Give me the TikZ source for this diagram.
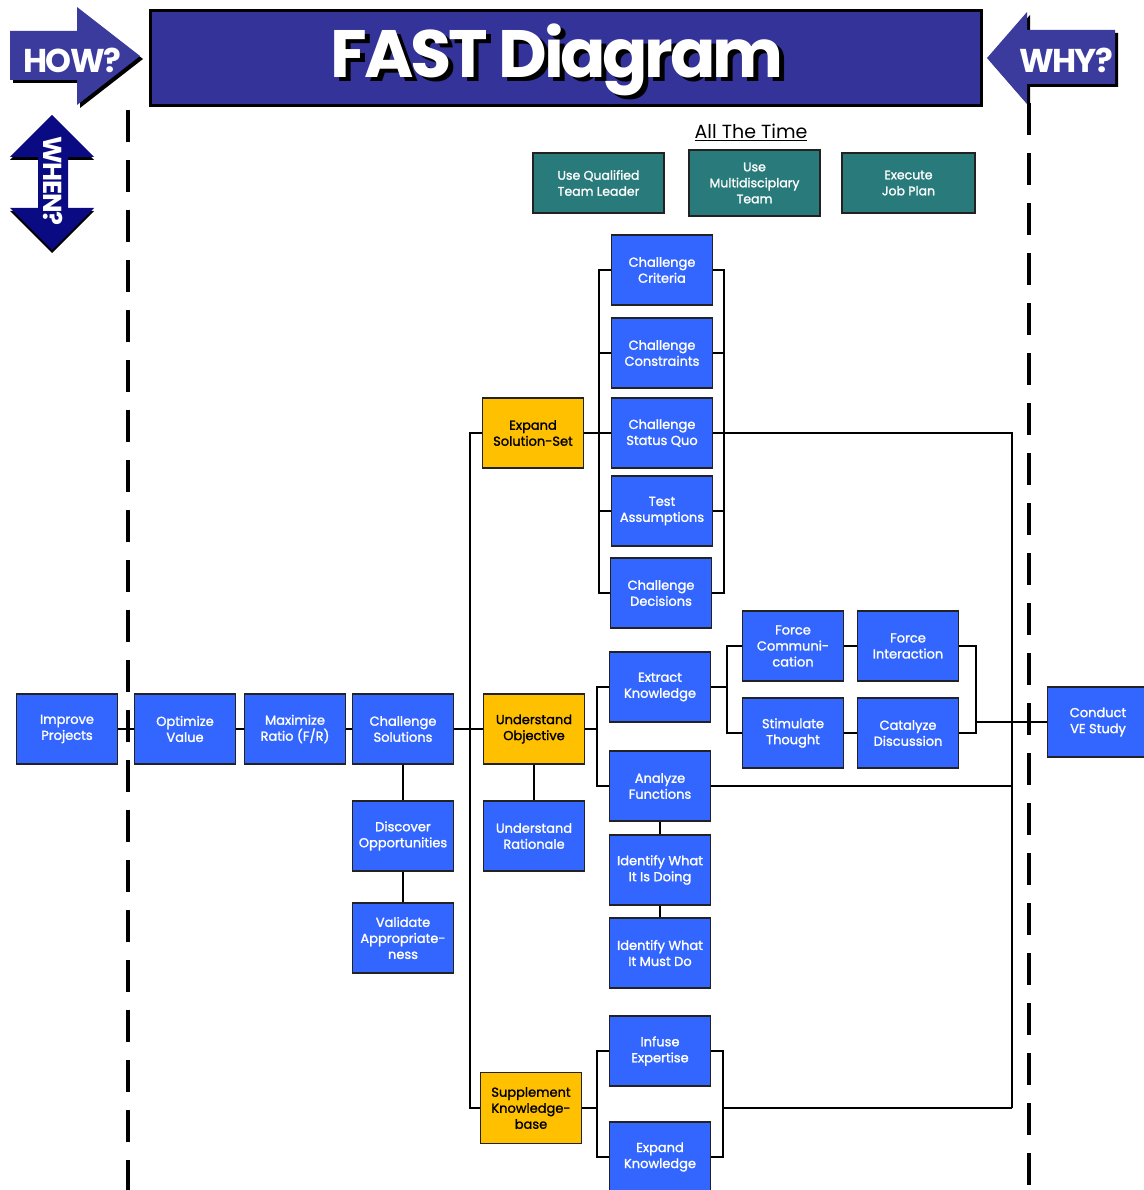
\documentclass[tikz,border=0pt]{standalone}
\usepackage{fontspec}
\setmainfont{Poppins}
\newfontfamily\boxfont{Poppins}[FakeBold=1.5]
\newfontfamily\headfont{Poppins}[LetterSpace=-5]
\usepackage{tikz}
\usetikzlibrary{calc,positioning}
\definecolor{FastBlue}{HTML}{3366FF}
\definecolor{KeyGold}{HTML}{FFC000}
\definecolor{TimeTeal}{HTML}{297A7A}
\definecolor{TitleIndigo}{HTML}{333399}
\definecolor{AskIndigo}{HTML}{3B3B9E}
\definecolor{WhenNavy}{HTML}{0A0A82}
\definecolor{Ink}{HTML}{222222}
\tikzset{
  fastbox/.style={
    draw=Ink,
    line width=1.2pt,
    align=center,
    font=\boxfont\fontsize{13}{16}\selectfont,
    minimum width=101pt,
    minimum height=70pt,
    inner sep=2pt
  },
  taskbox/.style={fastbox, fill=FastBlue, text=white},
  keybox/.style={fastbox, fill=KeyGold, text=black},
  timebox/.style={fastbox, fill=TimeTeal, text=white, minimum width=131pt, minimum height=60pt,
    font=\boxfont\fontsize{12.5}{16}\selectfont},
  link/.style={draw=black, line width=1.5pt},
  guide/.style={draw=black, line width=3.4pt, dash pattern=on 32pt off 18pt},
  asklabel/.style={text=white, font=\headfont\bfseries\fontsize{33}{34}\selectfont, inner sep=0pt}
}

\begin{document}
\begin{tikzpicture}[x=1pt,y=-1pt]
  \useasboundingbox (0,0) rectangle (1143,1190);

  \begin{scope}[shift={(3,3)}]
    \fill[black] (10,31) -- (77,31) -- (77,7) -- (140,56) -- (77,105) -- (77,80) -- (10,80) -- cycle;
    \fill[black] (1115,30) -- (1027,30) -- (1027,12) -- (987,58) -- (1027,104) -- (1027,84) -- (1115,84) -- cycle;
  \end{scope}
  \fill[AskIndigo] (10,31) -- (77,31) -- (77,7) -- (140,56) -- (77,105) -- (77,80) -- (10,80) -- cycle;
  \fill[AskIndigo] (1115,30) -- (1027,30) -- (1027,12) -- (987,58) -- (1027,104) -- (1027,84) -- (1115,84) -- cycle;
  \fill[black] (52,118) -- (94,160) -- (10,160) -- cycle (94,211) -- (52,253) -- (10,211) -- cycle;
  \fill[WhenNavy] (52,115) -- (94,157) -- (68,157) -- (68,208) -- (94,208) -- (52,250) -- (10,208) -- (38,208) -- (38,157) -- (10,157) -- cycle;
  \node[asklabel] (how) at (72,60) {HOW?};
  \node[asklabel] (why) at (1066,60) {WHY?};
  \node[asklabel, rotate=-90, font=\headfont\bfseries\fontsize{26}{27}\selectfont] (when) at (53,181) {WHEN?};

  \node[draw=black, line width=3pt, fill=TitleIndigo, minimum width=831pt, minimum height=95pt] (title) at (565.5,58.5) {};
  \node[text=white, font=\headfont\bfseries\fontsize{67}{70}\selectfont, inner sep=0pt] (ttl) at (557,62)
    {\rlap{\kern5pt\raisebox{-4pt}{\color{black}FAST Diagram}}FAST Diagram};

  \draw[guide] (128,110) -- (128,1190);
  \draw[guide] (1029,103) -- (1029,1190);

  \node[font=\fontsize{19}{20}\selectfont, inner sep=0pt] (always) at (751,132) {\underline{All The Time}};
  \node[timebox] (uql) at (598.5,183) {Use Qualified\\Team Leader};
  \node[timebox, minimum height=66pt] (umt) at (754.5,183) {Use\\Multidisciplary\\Team};
  \node[timebox, minimum width=133pt] (ejp) at (908.5,183) {Execute\\Job Plan};

  \node[taskbox] (imp) at (67,729) {Improve\\Projects};
  \node[taskbox] (opt) at (185,729) {Optimize\\Value};
  \node[taskbox] (mr) at (295,729) {Maximize\\Ratio (F/R)};
  \node[taskbox] (cs) at (403,729) {Challenge\\Solutions};
  \node[taskbox] (dop) at (403,836) {Discover\\Opportunities};
  \node[taskbox] (va) at (403,938) {Validate\\Appropriate-\\ness};
  \node[keybox] (uo) at (534,729) {Understand\\Objective};
  \node[taskbox] (ur) at (534,836) {Understand\\Rationale};
  \node[keybox] (ess) at (533,433) {Expand\\Solution-Set};
  \node[keybox, minimum height=71pt] (skb) at (531,1108) {Supplement\\Knowledge-\\base};

  \node[taskbox] (ccr) at (662,270) {Challenge\\Criteria};
  \node[taskbox] (ccn) at (662,353) {Challenge\\Constraints};
  \node[taskbox] (csq) at (662,433) {Challenge\\Status Quo};
  \node[taskbox] (ta) at (662,511) {Test\\Assumptions};
  \node[taskbox] (cde) at (661,593) {Challenge\\Decisions};

  \node[taskbox] (ek) at (660,687) {Extract\\Knowledge};
  \node[taskbox] (af) at (660,786) {Analyze\\Functions};
  \node[taskbox] (iwd) at (660,870) {Identify What\\It Is Doing};
  \node[taskbox] (iwm) at (660,953) {Identify What\\It Must Do};
  \node[taskbox] (ie) at (660,1051) {Infuse\\Expertise};
  \node[taskbox] (ekn) at (660,1157) {Expand\\Knowledge};

  \node[taskbox] (fc) at (793,646) {Force\\Communi-\\cation};
  \node[taskbox] (fin) at (908,646) {Force\\Interaction};
  \node[taskbox] (st) at (793,733) {Stimulate\\Thought};
  \node[taskbox] (cdi) at (908,733) {Catalyze\\Discussion};
  \node[taskbox] (ve) at (1098,722) {Conduct\\VE Study};

  \coordinate (bus) at (1012,433);

  \draw[link] (imp.east) -- (opt.west);
  \draw[link] (opt.east) -- (mr.west);
  \draw[link] (mr.east) -- (cs.west);
  \draw[link] (cs.east) -- (uo.west);
  \draw[link] (cs) -- (dop);
  \draw[link] (dop) -- (va);
  \draw[link] (uo) -- (ur);
  \draw[link] (ess.west) -- ++(-12,0) |- (skb.west);

  \draw[link] (ess.east) -- ++(16,0);
  \draw[link] (ccr.west) -- ++(-12,0) |- (cde.west);
  \draw[link] (ccr.east) -- ++(11,0) |- (cde.east);
  \foreach \n in {ccn,csq,ta} {
    \draw[link] (\n.west) -- ++(-12,0);
    \draw[link] (\n.east) -- ++(11,0);
  }
  \draw[link] (csq.east) -- (bus) -- (bus |- skb.east);

  \draw[link] (uo.east) -- ++(13,0);
  \draw[link] (ek.west) -- ++(-12,0) |- (af.west);
  \draw[link] (af.east) -- (bus |- af.east);
  \draw[link] (af) -- (iwd);
  \draw[link] (iwd) -- (iwm);

  \draw[link] (ek.east) -- ++(17,0);
  \draw[link] (fc.west) -- ++(-15,0) |- (st.west);
  \draw[link] (fc) -- (fin);
  \draw[link] (st) -- (cdi);
  \draw[link] (fin.east) -- ++(17,0) coordinate (vj) |- (cdi.east);
  \draw[link] (vj |- ve.west) -- (ve.west);

  \draw[link] (skb.east) -- ++(16,0);
  \draw[link] (ie.west) -- ++(-12,0) |- (ekn.west);
  \draw[link] (ie.east) -- ++(12,0) coordinate (sj) |- (ekn.east);
  \draw[link] (sj |- skb.east) -- (bus |- skb.east);
\end{tikzpicture}
\end{document}
